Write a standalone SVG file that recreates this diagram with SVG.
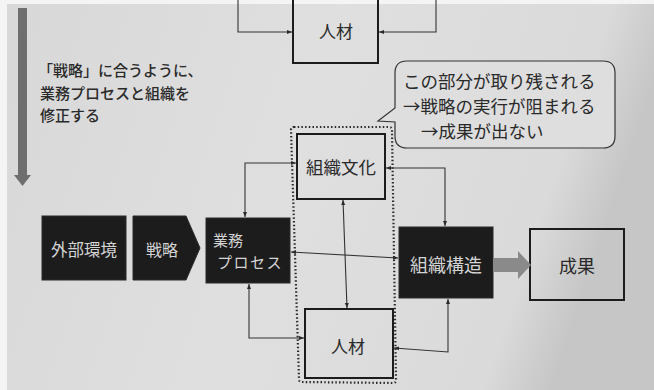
<svg xmlns="http://www.w3.org/2000/svg" width="654" height="390" viewBox="0 0 654 390">
<defs>
<linearGradient id="bg" x1="0" y1="0" x2="1" y2="0.2">
<stop offset="0" stop-color="#d8d8d8"/>
<stop offset="0.5" stop-color="#dfdfdf"/>
<stop offset="0.9" stop-color="#dadada"/>
<stop offset="1" stop-color="#c6c6c6"/>
</linearGradient>
<marker id="ah" viewBox="0 0 10 10" refX="10" refY="5" markerWidth="5" markerHeight="5" orient="auto-start-reverse" markerUnits="userSpaceOnUse">
<path d="M0,1 L10,5 L0,9 Z" fill="#2a2a2a"/>
</marker>
<style>
.t{font-family:"Noto Sans CJK JP","Noto Sans CJK SC",sans-serif;fill:#2a2a2a}
.w{font-family:"Noto Sans CJK JP","Noto Sans CJK SC",sans-serif;fill:#d4d4d4}
.box{fill:none;stroke:#1c1c1c;stroke-width:2}
.dark{fill:#1c1c1c;stroke:#2a2a2a;stroke-width:1}
.c{fill:none;stroke:#333;stroke-width:1.1;marker-start:url(#ah);marker-end:url(#ah)}
</style>
</defs>
<rect width="654" height="390" fill="#f4f4f4"/>
<rect x="7" y="4" width="647" height="386" fill="url(#bg)"/>

<g id="note-arrow">
<rect x="18" y="8" width="9" height="168" fill="#6e6e6e"/>
<path d="M14,175 L31,175 L22.5,186 Z" fill="#6e6e6e"/>
<text class="t" font-size="15" font-weight="500" x="38" y="76">「戦略」に合うように、</text>
<text class="t" font-size="15" font-weight="500" x="40" y="99">業務プロセスと組織を</text>
<text class="t" font-size="15" font-weight="500" x="40" y="121">修正する</text>
</g>

<g id="top-jinzai">
<rect class="box" x="293" y="-4" width="85" height="67"/>
<text class="t" font-size="17" x="336" y="38" text-anchor="middle">人材</text>
</g>

<g id="bubble">
<path d="M407,61 H603 Q615,61 615,73 V136 Q615,148 603,148 H407 Q395,148 395,136 V122 L378,121 L395,108 V73 Q395,61 407,61 Z" fill="#dedede" stroke="#333" stroke-width="1.2"/>
<text class="t" font-size="17.5" x="403" y="88">この部分が取り残される</text>
<text class="t" font-size="17.5" x="403" y="113">→戦略の実行が阻まれる</text>
<text class="t" font-size="17.5" x="421" y="138">→成果が出ない</text>
</g>

<g id="dotted-group">
<path d="M294,127 L389,127 Q392,127 392,130 L396,380 Q396,383 393,383 L302,382 Q299,382 299,379 L291,130 Q291,127 294,127 Z" fill="none" stroke="#2a2a2a" stroke-width="2.2" stroke-dasharray="1.5 2.2"/>
</g>

<g id="soshiki-bunka">
<rect class="box" x="297" y="134" width="88" height="65"/>
<text class="t" font-size="17.5" x="341" y="174" text-anchor="middle">組織文化</text>
</g>

<g id="jinzai">
<rect class="box" x="305" y="309" width="88" height="69"/>
<text class="t" font-size="17" x="348" y="353" text-anchor="middle">人材</text>
</g>

<g id="gaibu-kankyo">
<rect class="dark" x="42" y="216" width="84" height="64"/>
<text class="w" font-size="16.5" x="84" y="256" text-anchor="middle">外部環境</text>
</g>

<g id="senryaku">
<path class="dark" d="M133,216 L186,216 L200,248 L186,280 L133,280 Z"/>
<text class="w" font-size="16" x="162" y="256" text-anchor="middle">戦略</text>
</g>

<g id="gyomu-process">
<rect class="dark" x="206" y="218" width="84" height="65"/>
<text class="w" font-size="15" x="213" y="246">業務</text>
<text class="w" font-size="15" x="217" y="268" letter-spacing="1.5">プロセス</text>
</g>

<g id="soshiki-kozo">
<rect class="dark" x="399" y="227" width="94" height="71"/>
<text class="w" font-size="18" x="446" y="272" text-anchor="middle">組織構造</text>
</g>

<g id="seika">
<rect class="box" x="530" y="229" width="94" height="71"/>
<text class="t" font-size="18" x="577" y="273" text-anchor="middle">成果</text>
</g>

<g id="connectors">
<path class="c" d="M238,-2 V32 H292" style="marker-start:none"/>
<path class="c" d="M436,-2 V32 H379" style="marker-start:none"/>
<path class="c" d="M245,217 V163 H296"/>
<path class="c" d="M386,168 H445 V226"/>
<path class="c" d="M343,200 L347,308"/>
<path class="c" d="M291,252 L398,258"/>
<path class="c" d="M249,284 V338 H304"/>
<path class="c" d="M448,299 V352 L394,348"/>
<path d="M493,258 H518 V251 L531,265 L518,279 V272 H493 Z" fill="#8a8a8a"/>
</g>
</svg>
